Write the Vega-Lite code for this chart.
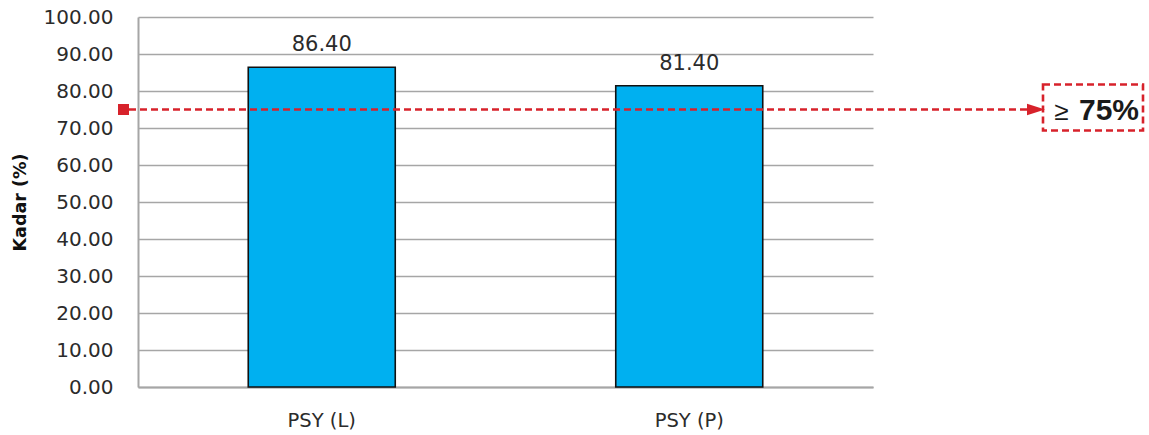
{
  "$schema": "https://vega.github.io/schema/vega-lite/v6.json",
  "width": 735,
  "height": 370,
  "autosize": {"type": "none"},
  "padding": {"left": 138, "top": 17, "right": 276, "bottom": 48},
  "background": "#ffffff",
  "config": {
    "view": {"stroke": null},
    "font": "DejaVu Sans",
    "axisY": {
      "tickCount": 12,
      "labelOverlap": false,
      "labelFont": "DejaVu Sans",
      "labelFontSize": 20,
      "labelColor": "#2b2b2b",
      "labelPadding": 25,
      "ticks": false,
      "domainColor": "#a6a6a6",
      "domainWidth": 2,
      "grid": true,
      "gridColor": "#a6a6a6",
      "gridWidth": 1.6,
      "titleFont": "DejaVu Sans",
      "titleFontSize": 17.5,
      "titleFontWeight": "bold",
      "titleColor": "#111111",
      "titlePadding": 14
    }
  },
  "layer": [
    {
      "data": {
        "values": [
          {"group": "PSY (L)", "kadar": 86.4},
          {"group": "PSY (P)", "kadar": 81.4}
        ]
      },
      "encoding": {
        "x": {
          "field": "group",
          "type": "nominal",
          "sort": null,
          "scale": {"paddingInner": 0.6, "paddingOuter": 0.3},
          "axis": {
            "title": null,
            "labelAngle": 0,
            "labelFont": "DejaVu Sans",
            "labelFontSize": 19.5,
            "labelColor": "#2b2b2b",
            "labelPadding": 24,
            "ticks": false,
            "domainColor": "#a6a6a6",
            "domainWidth": 2
          }
        },
        "y": {
          "field": "kadar",
          "type": "quantitative",
          "scale": {"domain": [0, 100], "nice": false},
          "axis": {"title": "Kadar (%)", "format": ".2f", "tickCount": 12, "values": [0, 10, 20, 30, 40, 50, 60, 70, 80, 90, 100]}
        }
      },
      "layer": [
        {
          "mark": {"type": "bar", "color": "#00b0f0", "stroke": "#111111", "strokeWidth": 1.6}
        },
        {
          "mark": {
            "type": "text",
            "baseline": "alphabetic",
            "dy": -16,
            "font": "DejaVu Sans",
            "fontSize": 21,
            "color": "#2b2b2b"
          },
          "encoding": {"text": {"field": "kadar", "type": "quantitative", "format": ".2f"}}
        }
      ]
    },
    {
      "data": {"values": [{"threshold": 75, "sign": "≥", "pct": "75%"}]},
      "encoding": {
        "y": {
          "field": "threshold",
          "type": "quantitative",
          "axis": {"title": "Kadar (%)", "format": ".2f", "tickCount": 12, "values": [0, 10, 20, 30, 40, 50, 60, 70, 80, 90, 100]}
        }
      },
      "layer": [
        {
          "mark": {
            "type": "rule",
            "clip": false,
            "color": "#d7222b",
            "strokeWidth": 2.6,
            "strokeDash": [7, 4],
            "xOffset": -9,
            "x2Offset": 157
          },
          "encoding": {"x": {"value": 0}, "x2": {"value": "width"}}
        },
        {
          "mark": {
            "type": "point",
            "shape": "square",
            "filled": true,
            "opacity": 1,
            "size": 121,
            "color": "#d7222b",
            "xOffset": -14.5
          },
          "encoding": {"x": {"value": 0}}
        },
        {
          "mark": {
            "type": "point",
            "shape": "M-1,-0.65L1,0L-1,0.65Z",
            "filled": true,
            "opacity": 1,
            "size": 324,
            "color": "#d7222b",
            "xOffset": 163
          },
          "encoding": {"x": {"value": "width"}}
        },
        {
          "mark": {
            "type": "rect",
            "filled": false,
            "stroke": "#d7222b",
            "strokeWidth": 2.6,
            "strokeDash": [7, 4],
            "xOffset": 170,
            "x2Offset": 270,
            "yOffset": -25,
            "y2Offset": 21
          },
          "encoding": {
            "x": {"value": "width"},
            "x2": {"value": "width"},
            "y2": {"field": "threshold"}
          }
        },
        {
          "mark": {
            "type": "text",
            "align": "center",
            "baseline": "alphabetic",
            "dy": 10,
            "xOffset": 188.5,
            "font": "Liberation Sans",
            "fontSize": 26,
            "color": "#1a1a1a"
          },
          "encoding": {"x": {"value": "width"}, "text": {"field": "sign"}}
        },
        {
          "mark": {
            "type": "text",
            "align": "left",
            "baseline": "alphabetic",
            "dy": 10,
            "xOffset": 206,
            "font": "Liberation Sans",
            "fontSize": 30,
            "fontWeight": "bold",
            "color": "#1a1a1a"
          },
          "encoding": {"x": {"value": "width"}, "text": {"field": "pct"}}
        }
      ]
    }
  ]
}
